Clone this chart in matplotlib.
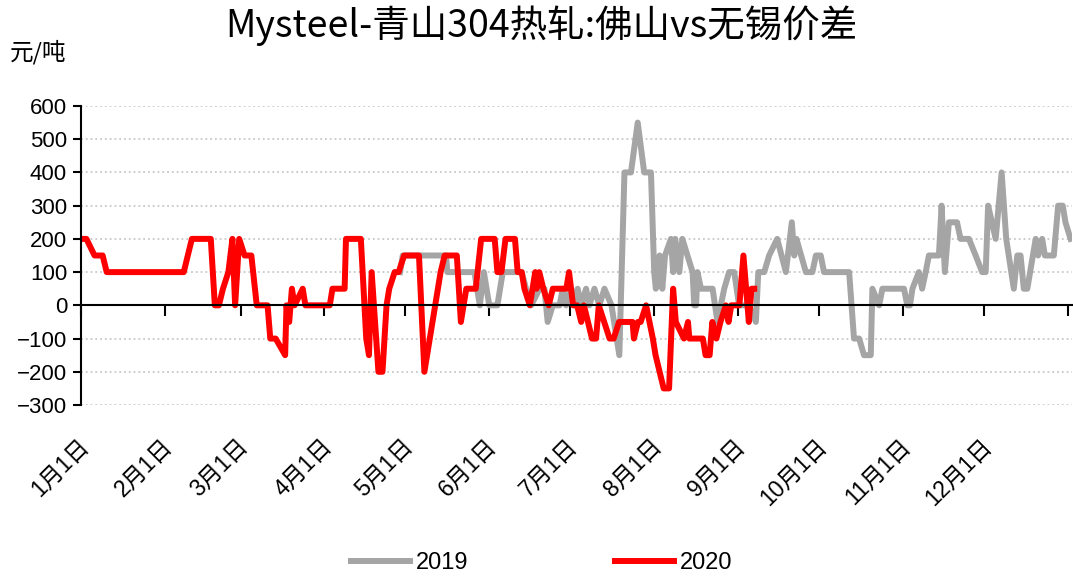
import matplotlib
matplotlib.use("Agg")
import matplotlib.pyplot as plt
import matplotlib.transforms as mtransforms

plt.rcParams['font.family'] = ['Liberation Sans', 'Noto Sans CJK SC', 'DejaVu Sans']
plt.rcParams['axes.unicode_minus'] = True

# day of year (0 = Jan 1) and spread in 元/吨
days_2019 = [118, 119, 135, 135.5, 145.5, 147.5, 149, 151, 154, 156, 163,
             164.6, 166.5, 169.6, 171.4, 172.6, 174.5, 177, 178.2, 179.4, 181.3,
             182.5, 183.7, 185, 186.8, 188, 189.9, 191.7, 193.6, 196.2, 199.1,
             201, 203.4, 205.9, 208.3, 210.8, 212, 212.6, 214, 215, 216, 218.2,
             219, 219.8, 221.3, 222.4, 226.2, 226.8, 227.5, 228, 229.3, 233.6,
             235.4, 237.9, 239.7, 241.6, 243.4, 247.1, 249.6, 250.5, 252.7, 254.5,
             257.5, 260.7, 262.9, 263.8, 264.6, 268.1, 270.5, 271.8, 273.6, 274.8,
             284.1, 285.9, 287.8, 289.6, 292.1, 292.7, 295.2, 296.4, 304.4, 305.6,
             306.6, 307.5, 309.9, 311.1, 312.4, 313.6, 317.3, 318.3, 319.5, 321,
             324, 325.3, 328.4, 330.9, 333.3, 334.6, 335.5, 338.3, 340.5, 342.2,
             345, 346.3, 347.5, 348.7, 350, 353.1, 354, 355.5, 356.5, 359.8, 361.4,
             363.1, 364.1, 366]
vals_2019 = [100, 150, 150, 100, 100, 0, 100, 0, 0, 100, 100,
             50, 0, 50, 50, -50, 0, 0, 50, 0, 50,
             0, 50, 0, 50, 0, 50, 0, 50, 0, -150,
             400, 400, 550, 400, 400, 100, 50, 150, 50, 150, 200,
             100, 200, 100, 200, 100, 0, 0, 100, 50, 50,
             -50, 50, 100, 100, 0, 0, -50, 100, 100, 150,
             200, 100, 250, 150, 200, 100, 100, 150, 150, 100,
             100, -100, -100, -150, -150, 50, 0, 50, 50, 0,
             0, 50, 100, 50, 100, 150, 150, 300, 100, 250,
             250, 200, 200, 150, 100, 100, 300, 200, 400, 200,
             50, 150, 150, 50, 50, 200, 150, 200, 150, 150, 300,
             300, 250, 200]

days_2020 = [0, 2, 5, 8, 9.5, 38, 41, 48, 49.5, 51, 52.5, 54.5, 56, 57, 58.5,
             60.5, 63, 65, 69, 70, 72, 75.5, 76, 77, 78, 79, 82, 83, 92, 93,
             97.5, 98, 103.5, 105.5, 106.5, 107.5, 110, 111.5, 113, 114, 116,
             117.5, 119.5, 125, 127, 129, 133, 134.5, 139, 140.5, 142.5, 146,
             148, 153, 154, 155.5, 157, 160.5, 161.5, 163, 164, 166, 167, 168,
             168.5, 169.5, 171, 173, 174.5, 179.5, 180.5, 182, 183.5, 185, 186,
             189, 190.5, 191.5, 193.5, 195.5, 197, 199, 204, 204.5, 206, 207,
             209, 211.5, 212.5, 215.5, 217.5, 219, 220, 223, 224.5, 225, 230,
             231, 232.5, 233.5, 235, 236.5, 238.5, 239.5, 240.5, 243.5, 245,
             247, 248, 249]
vals_2020 = [200, 200, 150, 150, 100, 100, 200, 200, 0, 0, 50, 100, 200, 0, 200,
             150, 150, 0, 0, -100, -100, -150, 0, -50, 50, 0, 50, 0, 0, 50,
             50, 200, 200, -100, -150, 100, -200, -200, 0, 50, 100,
             100, 150, 150, -200, -100, 100, 150, 150, -50, 50, 50,
             200, 200, 100, 100, 200, 200, 100, 100, 50, 0, 50, 100,
             50, 100, 50, 0, 50, 50, 100, 0, 0, -50, 0,
             -100, -100, 0, -50, -100, -100, -50, -50, -100, -50, -50,
             0, -100, -150, -250, -250, 50, -50, -100, -50, -100, -100,
             -150, -150, -50, -100, -50, 0, -50, 0, 0, 150,
             -50, 50, 50]

month_days = [0, 31, 59, 90, 120, 151, 181, 212, 243, 273, 304, 334, 365]
month_labels = ['1月1日', '2月1日', '3月1日', '4月1日', '5月1日', '6月1日',
                '7月1日', '8月1日', '9月1日', '10月1日', '11月1日', '12月1日']
y_ticks = [-300, -200, -100, 0, 100, 200, 300, 400, 500, 600]

fig = plt.figure(figsize=(10.73, 5.81), dpi=100)
ax = fig.add_axes([0.0755, 0.3029, 0.9235, 0.5147])

ax.plot(days_2019, vals_2019, color='#a5a5a5', linewidth=4.3, label='2019',
        solid_joinstyle='round')
ax.plot(days_2020, vals_2020, color='#ff0000', linewidth=4.3, label='2020',
        solid_joinstyle='round')

ax.set_xlim(0, 366.5)
ax.set_ylim(-300, 600)
ax.set_yticks(y_ticks)
ax.set_yticklabels([str(v).replace('-', '\u2212') for v in y_ticks], fontsize=16)
ax.set_xticks(month_days)
ax.tick_params(axis='x', labelbottom=False, direction='out', length=8, width=1.5)
ax.tick_params(axis='y', direction='out', length=6, width=1.5, pad=4)

for s in ['top', 'right']:
    ax.spines[s].set_visible(False)
ax.spines['bottom'].set_position(('data', 0))
ax.spines['bottom'].set_linewidth(1.5)
ax.spines['left'].set_linewidth(1.5)
ax.yaxis.grid(True, linestyle=':', color='#c8c8c8', linewidth=1.3)
ax.set_axisbelow(True)

trans = mtransforms.blended_transform_factory(ax.transData, ax.transAxes)
for d, lab in zip(month_days, month_labels):
    ax.text(d + 1.5, -0.125, lab, transform=trans, rotation=45,
            rotation_mode='anchor', ha='right', va='center', fontsize=16.5,
            family=['Liberation Sans', 'Noto Sans CJK SC'])

fig.text(0.505, 0.955, 'Mysteel-青山304热轧:佛山vs无锡价差', ha='center', va='center',
         fontsize=27, family=['Noto Sans CJK SC', 'DejaVu Sans'])
fig.text(0.009, 0.91, '元/吨', ha='left', va='center', fontsize=17,
         family=['Noto Sans CJK SC', 'DejaVu Sans'])

fig.legend(loc='lower center', bbox_to_anchor=(0.505, -0.025), ncol=2,
           frameon=False, fontsize=17, handlelength=2.5, columnspacing=6.2,
           handletextpad=0.25)

fig.savefig('out.png', dpi=100)
